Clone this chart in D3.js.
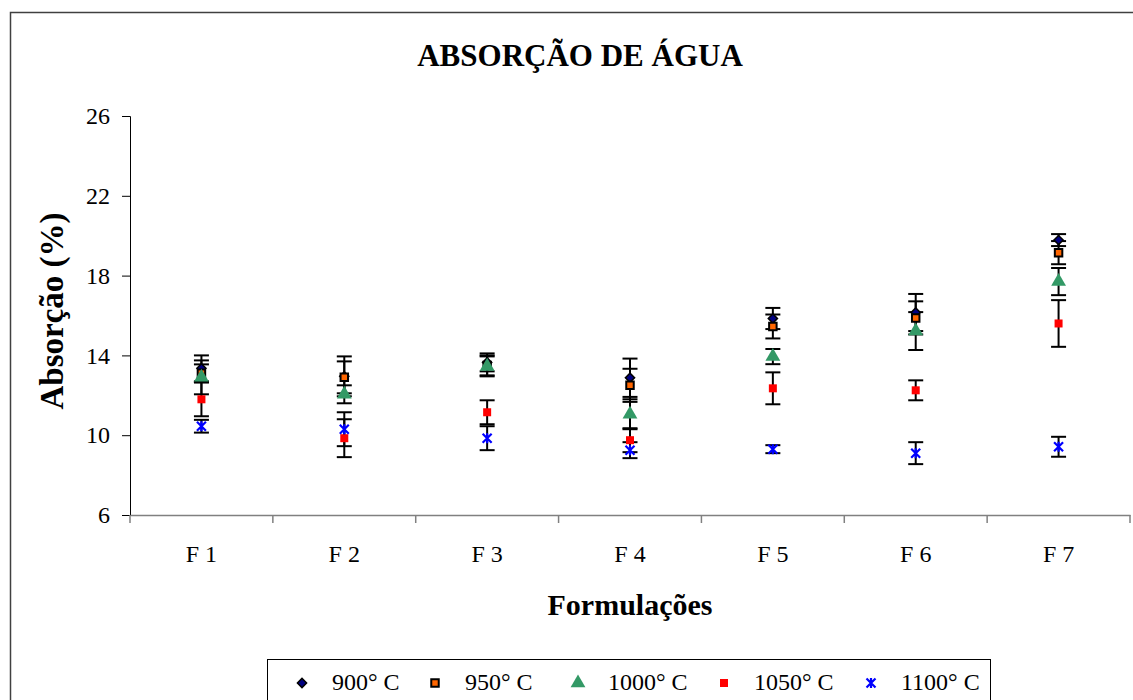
<html>
<meta charset="utf-8">
<script src="https://d3js.org/d3.v7.min.js"></script>
<style>
  body { margin: 0; background: #fff; }
  text { font-family: "Liberation Serif", "Times New Roman", serif; }
</style>
<body>
<div id="chartContainer"></div>
<script>
var WIDTH = 1133, HEIGHT = 700;

// data
var categories = ["F 1", "F 2", "F 3", "F 4", "F 5", "F 6", "F 7"];
var seriesNames = ["900° C", "950° C", "1000° C", "1050° C", "1100° C"];
var v900  = [13.35, 12.95, 13.65, 12.88, 15.85, 16.15, 19.78];
var e900  = [0.65, 1.0, 0.45, 0.96, 0.53, 0.93, 0.3];
var v950  = [13.1, 12.9, 13.5, 12.5, 15.45, 15.88, 19.15];
var e950  = [0.45, 0.8, 0.5, 0.83, 0.6, 0.83, 0.58];
var v1000 = [12.9, 12.05, 13.45, 11.05, 13.94, 15.22, 17.7];
var e1000 = [0.85, 0.45, 0.5, 0.75, 0.38, 0.95, 0.68];
var v1050 = [11.8, 9.85, 11.15, 9.75, 12.35, 12.25, 15.6];
var e1050 = [0.85, 0.95, 0.6, 0.6, 0.8, 0.5, 1.17];
var v1100 = [10.45, 10.3, 9.85, 9.25, 9.3, 9.1, 9.42];
var e1100 = [0.32, 0.85, 0.6, 0.4, 0.2, 0.55, 0.5];
var yTicks = [6, 10, 14, 18, 22, 26];

var values = [v900, v950, v1000, v1050, v1100];
var errors = [e900, e950, e1000, e1050, e1100];

var svg = d3.select("#chartContainer").append("svg")
    .attr("width", WIDTH).attr("height", HEIGHT);

// outer chart border
svg.append("rect")
    .attr("x", 10.5).attr("y", 12.5)
    .attr("width", 1300).attr("height", 900)
    .attr("fill", "none").attr("stroke", "#404040").attr("stroke-width", 1.5);

var x = d3.scaleBand().domain(categories).range([130, 1130]);
var y = d3.scaleLinear().domain([6, 26]).range([515, 116]);

// marker shapes
var sq = d3.symbol().type(d3.symbolSquare);
var marker = [
  function (g) { g.append("path").attr("d", sq.size(42)()).attr("transform", "rotate(45)")
                  .attr("fill", "#000080").attr("stroke", "#000").attr("stroke-width", 1.5); },
  function (g) { g.append("path").attr("d", sq.size(56)())
                  .attr("fill", "#FF6600").attr("stroke", "#000").attr("stroke-width", 2); },
  function (g) { g.append("path").attr("d", d3.symbol().type(d3.symbolTriangle).size(95)())
                  .attr("fill", "#339966"); },
  function (g) { g.append("path").attr("d", sq.size(64)()).attr("fill", "#FF0000"); },
  function (g) { g.append("path").attr("d", "M-4.5,-4.5L4.5,4.5M-4.5,4.5L4.5,-4.5M0,-5L0,5")
                  .attr("fill", "none").attr("stroke", "#0000FF").attr("stroke-width", 2.2); }
];

// y axis
var yAxis = svg.append("g").attr("transform", "translate(130,0)")
    .call(d3.axisLeft(y).tickValues(yTicks).tickSize(8).tickPadding(12));
yAxis.select(".domain").attr("stroke", "#000");
yAxis.selectAll("text").style("font-size", "24px").attr("fill", "#000");

// x axis
var xAxis = svg.append("g").attr("transform", "translate(0,515)")
    .call(d3.axisBottom(x).tickSize(0).tickPadding(30).tickSizeOuter(0));
xAxis.select(".domain").attr("stroke", "#808080").attr("stroke-width", 1.5);
xAxis.selectAll("text").style("font-size", "24px").attr("fill", "#000");
xAxis.selectAll(".bound").data(d3.range(categories.length + 1)).enter().append("line")
    .attr("x1", function (i) { return x.range()[0] + i * x.step(); })
    .attr("x2", function (i) { return x.range()[0] + i * x.step(); })
    .attr("y1", 0).attr("y2", 8)
    .attr("stroke", "#808080").attr("stroke-width", 1.5);

// error bars
values.forEach(function (vals, s) {
  var g = svg.append("g");
  vals.forEach(function (v, i) {
    var cx = x(categories[i]) + x.bandwidth() / 2;
    var e = errors[s][i];
    g.append("line").attr("x1", cx).attr("x2", cx)
        .attr("y1", y(v + e)).attr("y2", y(v - e))
        .attr("stroke", "#000").attr("stroke-width", 2);
    [v + e, v - e].forEach(function (w) {
      g.append("line").attr("x1", cx - 7.5).attr("x2", cx + 7.5)
          .attr("y1", y(w)).attr("y2", y(w))
          .attr("stroke", "#000").attr("stroke-width", 2);
    });
  });
});

// markers
values.forEach(function (vals, s) {
  vals.forEach(function (v, i) {
    var g = svg.append("g")
        .attr("transform", "translate(" + (x(categories[i]) + x.bandwidth() / 2) + "," + y(v) + ")");
    marker[s](g);
  });
});

// titles
svg.append("text").attr("x", 580).attr("y", 66).attr("text-anchor", "middle")
    .style("font-size", "31px").style("font-weight", "bold").text("ABSORÇÃO DE ÁGUA");
svg.append("text").attr("transform", "translate(63,311) rotate(-90)").attr("text-anchor", "middle")
    .style("font-size", "33px").style("font-weight", "bold").text("Absorção (%)");
svg.append("text").attr("x", 630).attr("y", 615).attr("text-anchor", "middle")
    .style("font-size", "30px").style("font-weight", "bold").text("Formulações");

// legend
svg.append("rect").attr("x", 267.5).attr("y", 659.5).attr("width", 723).attr("height", 80)
    .attr("fill", "#fff").attr("stroke", "#000").attr("stroke-width", 1);
var legX = [302, 435, 578, 724, 871];
seriesNames.forEach(function (name, s) {
  var g = svg.append("g").attr("transform", "translate(" + legX[s] + ",683)");
  marker[s](g);
  svg.append("text").attr("x", legX[s] + 30).attr("y", 690)
      .style("font-size", "24px").text(name);
});
</script>
</body>
</html>
